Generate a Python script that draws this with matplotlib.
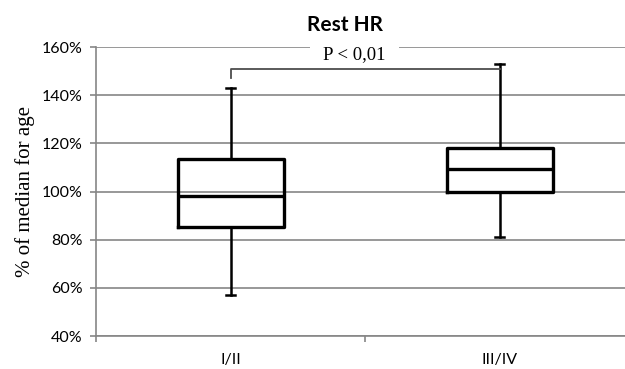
import matplotlib
matplotlib.use("Agg")
import matplotlib.pyplot as plt
from matplotlib.ticker import FixedLocator

# Box statistics, % of median for age
groups = ["I/II", "III/IV"]
whisker_low = [57.0, 81.3]
q1 = [85.4, 99.7]
median = [98.3, 109.4]
q3 = [113.5, 118.0]
whisker_high = [142.9, 152.8]
y_ticks = [40, 60, 80, 100, 120, 140, 160]
p_label = "P < 0,01"

grid_col = "#868686"

fig = plt.figure(figsize=(6.25, 3.69), dpi=100)
ax = fig.add_axes([0.1536, 0.0894, 0.861, 0.7832])

stats = []
for i, g in enumerate(groups):
    stats.append(dict(label=g, whislo=whisker_low[i], q1=q1[i], med=median[i],
                      q3=q3[i], whishi=whisker_high[i], fliers=[]))

ax.bxp(stats, positions=range(len(groups)), widths=0.394, showfliers=False,
       boxprops=dict(color="black", linewidth=2.4),
       medianprops=dict(color="black", linewidth=2.4),
       whiskerprops=dict(color="black", linewidth=1.8),
       capprops=dict(color="black", linewidth=1.8),
       capwidths=0.035, zorder=3)

ax.set_xlim(-0.5, 1.5)
ax.set_ylim(40, 160)
ax.set_yticks(y_ticks)
ax.set_yticklabels([f"{t}%" for t in y_ticks])
ax.set_xticks(range(len(groups)))
ax.set_xticklabels(groups)
ax.xaxis.set_minor_locator(FixedLocator([-0.5, 0.5, 1.5]))

ax.grid(axis="y", color=grid_col, linewidth=1.2, zorder=0)
ax.set_axisbelow(True)
for s in ["top", "right"]:
    ax.spines[s].set_visible(False)
for s in ["left", "bottom"]:
    ax.spines[s].set_color(grid_col)
    ax.spines[s].set_linewidth(1.2)

ax.tick_params(axis="y", length=4.3, width=1.2, color=grid_col, pad=5.5,
               labelsize=11.5, labelfontfamily="Lato")
ax.tick_params(axis="x", which="major", length=0, pad=12.5, labelsize=11.5,
               labelfontfamily="Lato")
ax.tick_params(axis="x", which="minor", length=4.3, width=1.2, color=grid_col)

ax.set_ylabel("% of median for age", family="Liberation Serif", fontsize=15,
              labelpad=5)

# significance bracket between the two groups
y_br = 150.9
ax.plot([0, 0, 1], [y_br - 3.8, y_br, y_br], color="#4d4d4d", linewidth=1.3,
        zorder=4)
ax.text(0.46, 156.8, p_label, ha="center", va="center", fontsize=13.5,
        family="Liberation Serif", zorder=2,
        bbox=dict(boxstyle="square,pad=0.7", fc="white", ec="none"))

fig.text(345 / 625, 1 - 25 / 369, "Rest HR", ha="center", va="center",
         fontsize=15, fontweight="bold", family="Lato")

fig.savefig("out.png", dpi=100)
